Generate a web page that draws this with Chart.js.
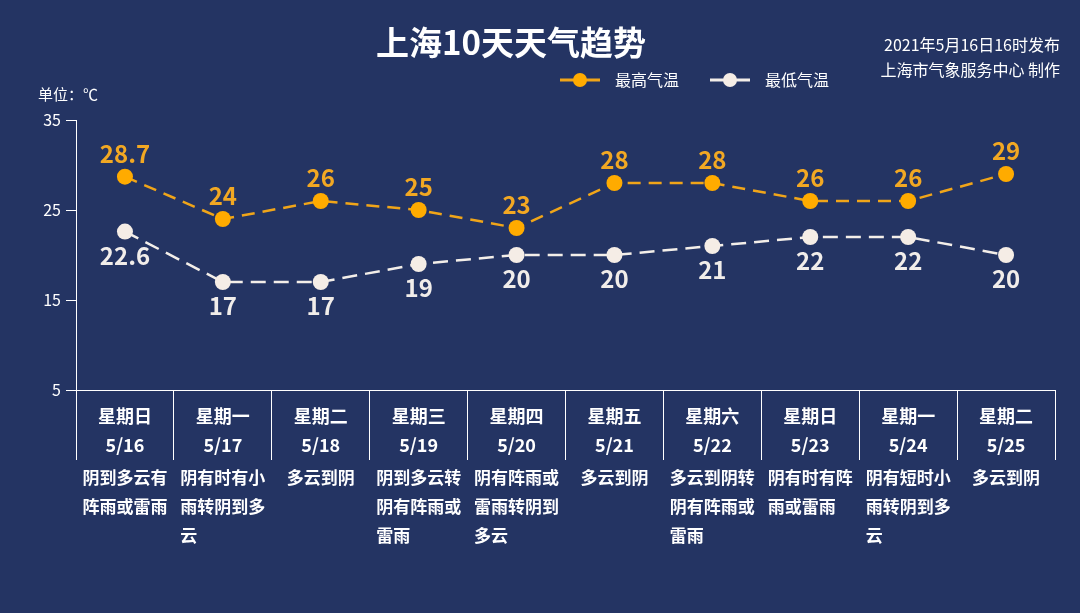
<!DOCTYPE html>
<html><head><meta charset="utf-8">
<script src="https://cdn.jsdelivr.net/npm/chart.js@4.4.0/dist/chart.umd.min.js"></script>
<style>html,body{margin:0;padding:0;background:#243463;overflow:hidden}#wrap{width:1080px;height:613px;position:relative}</style>
</head><body><div id="wrap"><canvas id="c" width="1080" height="613"></canvas></div>
<script>
const weekdays = ['星期日','星期一','星期二','星期三','星期四','星期五','星期六','星期日','星期一','星期二'];
const dates = ['5/16','5/17','5/18','5/19','5/20','5/21','5/22','5/23','5/24','5/25'];
const weather = ['阴到多云有阵雨或雷雨','阴有时有小雨转阴到多云','多云到阴','阴到多云转阴有阵雨或雷雨','阴有阵雨或雷雨转阴到多云','多云到阴','多云到阴转阴有阵雨或雷雨','阴有时有阵雨或雷雨','阴有短时小雨转阴到多云','多云到阴'];
const highTemps = [28.7, 24, 26, 25, 23, 28, 28, 26, 26, 29];
const lowTemps = [22.6, 17, 17, 19, 20, 20, 21, 22, 22, 20];
const yTicks = [5, 15, 25, 35];
const seriesNames = ['最高气温', '最低气温'];
const titleText = '上海10天天气趋势';
const unitText = '单位：℃';
const sourceLines = ['2021年5月16日16时发布', '上海市气象服务中心 制作'];

const FONT = "'Noto Sans CJK SC','Noto Sans',sans-serif";
const HIGH_LINE = '#F0A519', HIGH_PT = '#FFAB00', HIGH_TXT = '#F2A823';
const LOW_LINE = '#F3EEE9', LOW_PT = '#F5EDE6', LOW_TXT = '#F1EDEA';

const decor = {
  id: 'decor',
  afterDraw(chart) {
    const ctx = chart.ctx;
    const x = chart.scales.x;
    const area = chart.chartArea;
    ctx.save();
    ctx.fillStyle = '#ffffff';
    ctx.textAlign = 'center'; ctx.textBaseline = 'middle';
    ctx.font = 'bold 33px ' + FONT;
    ctx.fillText(titleText, 511, 42);
    ctx.textAlign = 'right';
    ctx.font = '16px ' + FONT;
    ctx.fillText(sourceLines[0], 1060, 45);
    ctx.fillText(sourceLines[1], 1060, 70);
    ctx.textAlign = 'left';
    ctx.font = '15px ' + FONT;
    ctx.fillText(unitText, 38, 94);
    const ds = chart.data.datasets;
    const legendX = [560, 710];
    ds.forEach((d, i) => {
      const lx = legendX[i], ly = 80;
      ctx.strokeStyle = d.borderColor; ctx.lineWidth = 3;
      ctx.beginPath(); ctx.moveTo(lx, ly); ctx.lineTo(lx + 40, ly); ctx.stroke();
      ctx.fillStyle = d.pointBackgroundColor;
      ctx.beginPath(); ctx.arc(lx + 20, ly, 7, 0, Math.PI * 2); ctx.fill();
      ctx.fillStyle = '#ffffff';
      ctx.font = '16px ' + FONT; ctx.textAlign = 'left';
      ctx.fillText(d.label, lx + 55, ly);
    });
    ctx.textAlign = 'center';
    for (let i = 0; i < dates.length; i++) {
      const cx = x.getPixelForValue(i);
      ctx.fillStyle = '#ffffff';
      ctx.font = 'bold 18px ' + FONT;
      ctx.fillText(weekdays[i], cx, area.bottom + 26);
      ctx.fillText(dates[i], cx, area.bottom + 55);
      ctx.font = 'bold 17px ' + FONT;
      const maxW = 88;
      const lines = [];
      let cur = '';
      for (const ch of weather[i]) {
        if (ctx.measureText(cur + ch).width > maxW && cur) { lines.push(cur); cur = ch; }
        else cur += ch;
      }
      if (cur) lines.push(cur);
      const boxW = Math.max(...lines.map(l => ctx.measureText(l).width));
      ctx.textAlign = 'left';
      lines.forEach((l, k) => ctx.fillText(l, cx - boxW / 2, area.bottom + 88 + k * 29));
      ctx.textAlign = 'center';
    }
    ctx.restore();
  },
  afterDatasetsDraw(chart) {
    const ctx = chart.ctx;
    ctx.save();
    ctx.textAlign = 'center'; ctx.textBaseline = 'middle';
    ctx.font = 'bold 24px ' + FONT;
    chart.data.datasets.forEach((d, di) => {
      const meta = chart.getDatasetMeta(di);
      meta.data.forEach((pt, i) => {
        ctx.fillStyle = di === 0 ? HIGH_TXT : LOW_TXT;
        const off = di === 0 ? -23 : 24;
        ctx.fillText(String(d.data[i]), pt.x, pt.y + off);
      });
    });
    ctx.restore();
  }
};

new Chart(document.getElementById('c'), {
  type: 'line',
  data: {
    labels: dates,
    datasets: [
      { label: seriesNames[0], data: highTemps, borderColor: HIGH_LINE, borderWidth: 2.5, borderDash: [13, 8],
        pointRadius: 8, pointBackgroundColor: HIGH_PT, pointBorderWidth: 0, tension: 0, clip: false },
      { label: seriesNames[1], data: lowTemps, borderColor: LOW_LINE, borderWidth: 2.5, borderDash: [15, 8],
        pointRadius: 8, pointBackgroundColor: LOW_PT, pointBorderWidth: 0, tension: 0, clip: false }
    ]
  },
  options: {
    responsive: false, animation: false, devicePixelRatio: 1,
    layout: { padding: { top: 120, right: 25, bottom: 153, left: 0 } },
    plugins: { legend: { display: false }, title: { display: false }, tooltip: { enabled: false } },
    scales: {
      x: {
        type: 'category', offset: true,
        grid: { display: true, offset: true, drawOnChartArea: false, drawTicks: true, tickLength: 70, color: '#ffffff', lineWidth: 1 },
        border: { display: true, color: '#ffffff', width: 1 },
        ticks: { display: false },
        afterFit: s => { s.height = 70; }
      },
      y: {
        min: 5, max: 35,
        afterBuildTicks: s => { s.ticks = yTicks.map(v => ({ value: v })); },
        grid: { display: true, drawOnChartArea: false, drawTicks: true, tickLength: 10, color: '#ffffff', lineWidth: 1 },
        border: { display: true, color: '#ffffff', width: 1 },
        ticks: { color: '#ffffff', font: { family: FONT, size: 16 }, padding: 5 },
        afterFit: s => { s.width = 76; }
      }
    }
  },
  plugins: [decor]
});
</script></body></html>
